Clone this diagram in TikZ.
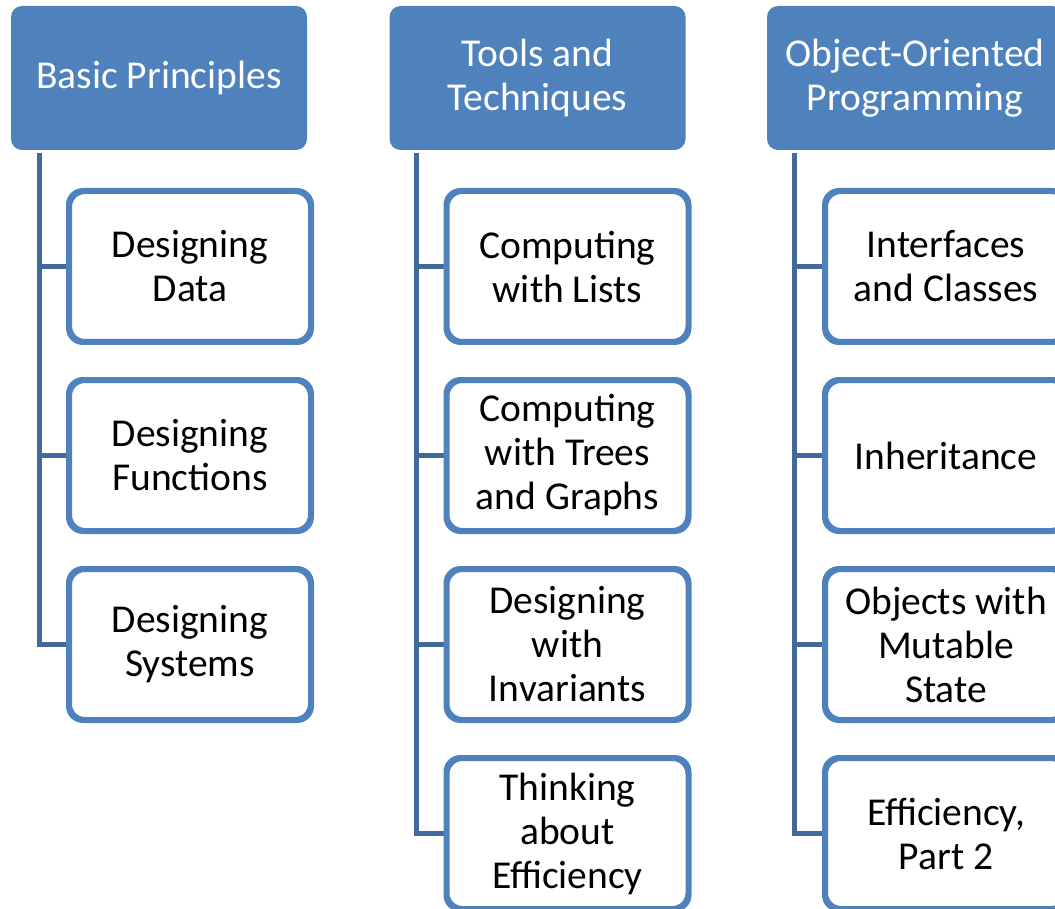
\documentclass[tikz,border=0pt]{standalone}
\usepackage{fontspec}
\setmainfont{Carlito}
\definecolor{hdrblue}{HTML}{4F81BD}
\definecolor{linkblue}{HTML}{41699B}
\begin{document}
\begin{tikzpicture}[x=1pt,y=-1pt,
  hdr/.style={draw=none, fill=hdrblue, rounded corners=11pt, minimum width=296pt, minimum height=144pt, inner sep=0pt, align=center, text=white, font=\fontsize{39.5}{44}\selectfont},
  child/.style={draw=hdrblue, line width=4pt, fill=white, rounded corners=15pt, minimum width=240pt, minimum height=149pt, inner sep=0pt, align=center, text=black, font=\fontsize{39.5}{44}\selectfont},
  conn/.style={draw=linkblue, line width=5pt}]
\useasboundingbox (0,0) rectangle (1055,909);
\clip (0,0) rectangle (1055,909);
% headers
\node[hdr] (h1) at (159,78) {Basic Principles};
\node[hdr] (h2) at (537.5,78) {Tools and\\Techniques};
\node[hdr] (h3) at (915,78) {Object-Oriented\\Programming};
% column 1
\node[child] (a1) at (190,266.5) {Designing\\Data};
\node[child] (a2) at (190,455.5) {Designing\\Functions};
\node[child] (a3) at (190,644.5) {Designing\\Systems};
% column 2
\node[child] (b1) at (567.5,266.5) {Computing\\with Lists};
\node[child] (b2) at (567.5,455.5) {Computing\\with Trees\\and Graphs};
\node[child] (b3) at (567.5,644.5) {Designing\\with\\Invariants};
\node[child] (b4) at (567.5,833.5) {Thinking\\about\\Efficiency};
% column 3
\node[child] (c1) at (946,266.5) {Interfaces\\and Classes};
\node[child] (c2) at (946,455.5) {Inheritance};
\node[child] (c3) at (946,644.5) {Objects with\\Mutable\\State};
\node[child] (c4) at (946,833.5) {Efficiency,\\Part 2};
% connector tops
\coordinate (t1) at ([xshift=29pt,yshift=-3pt]h1.south west);
\coordinate (t2) at ([xshift=27pt,yshift=-3pt]h2.south west);
\coordinate (t3) at ([xshift=28pt,yshift=-3pt]h3.south west);
% connectors
\draw[conn] (t1) |- (a3.west);
\draw[conn] (t1) |- (a1.west);
\draw[conn] (t1) |- (a2.west);
\draw[conn] (t2) |- (b4.west);
\draw[conn] (t2) |- (b1.west);
\draw[conn] (t2) |- (b2.west);
\draw[conn] (t2) |- (b3.west);
\draw[conn] (t3) |- (c4.west);
\draw[conn] (t3) |- (c1.west);
\draw[conn] (t3) |- (c2.west);
\draw[conn] (t3) |- (c3.west);
% redraw box outlines over connector ends
\foreach \n in {a1,a2,a3,b1,b2,b3,b4,c1,c2,c3,c4}{
  \draw[draw=hdrblue, line width=4pt, rounded corners=15pt] (\n.south west) rectangle (\n.north east);
}
\end{tikzpicture}
\end{document}
